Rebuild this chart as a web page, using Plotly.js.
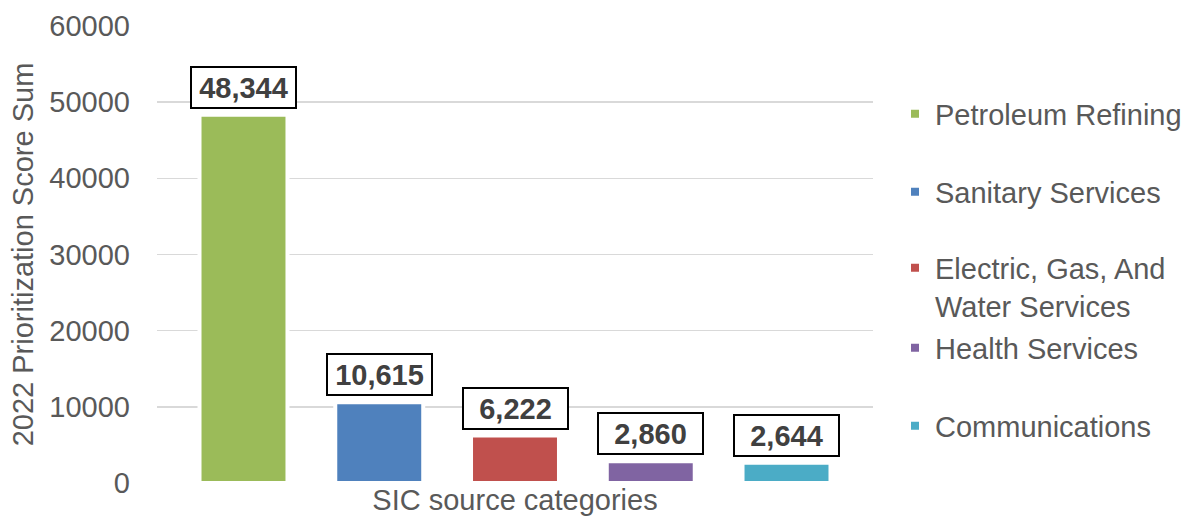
<!DOCTYPE html>
<html><head><meta charset="utf-8">
<script src="https://cdn.plot.ly/plotly-3.0.1.min.js"></script>
<style>html,body{margin:0;padding:0;background:#fff;}#chart{width:1187px;height:518px;}</style>
</head><body><div id="chart"></div>
<script>
const category = "SIC source categories";
const seriesNames = ["Petroleum Refining", "Sanitary Services", "Electric, Gas, And<br>Water Services", "Health Services", "Communications"];
const seriesValues = [48344, 10615, 6222, 2860, 2644];
const seriesColors = ["#9BBB59", "#4F81BD", "#C0504D", "#8064A2", "#4BACC6"];
const yTickValues = [0, 10000, 20000, 30000, 40000, 50000, 60000];
const yTitle = "2022 Prioritization Score Sum";

const FONT = "Arial, 'Liberation Sans', sans-serif";
const FS = 29;
const GREY = "#595959";
const BARGAP = 0.052, BARGROUPGAP = 0.352;
const legendCenters = [114, 192, 287, 348, 426];
const plotTop = 26, plotBottom = 483, plotLeft = 157, plotRight = 873;
const W = 1187, H = 518;

const n = seriesNames.length;
const traces = seriesNames.map((name, i) => ({
  type: "bar",
  name: name,
  x: [category],
  y: [seriesValues[i]],
  marker: {color: seriesColors[i], line: {color: "#ffffff", width: 4}},
  legend: i === 0 ? "legend" : "legend" + (i + 1),
  hoverinfo: "skip"
}));

const annotations = seriesValues.map((v, i) => ({
  xref: "x", yref: "y",
  x: -0.5 + BARGAP / 2 + (i + 0.5) * (1 - BARGAP) / n,
  y: v,
  yanchor: "bottom", xanchor: "center",
  yshift: 6,
  text: "<b>" + v.toLocaleString("en-US") + "</b>",
  showarrow: false,
  font: {family: FONT, size: FS, color: "#404040"},
  bgcolor: "#ffffff",
  bordercolor: "#000000",
  borderwidth: 2,
  borderpad: 3,
  width: 97,
  height: 33
}));

const layout = {
  width: W, height: H,
  margin: {l: plotLeft, r: W - plotRight, t: plotTop, b: H - plotBottom, pad: 0, autoexpand: false},
  paper_bgcolor: "#ffffff", plot_bgcolor: "#ffffff",
  font: {family: FONT, size: FS, color: GREY},
  barmode: "group",
  bargap: BARGAP,
  bargroupgap: BARGROUPGAP,
  showlegend: true,
  xaxis: {
    type: "category",
    showgrid: false, zeroline: false, showline: false,
    ticks: "",
    tickfont: {family: FONT, size: FS, color: GREY},
    ticklabelstandoff: -3,
    automargin: false,
    fixedrange: true
  },
  yaxis: {
    range: [0, 60000],
    tickvals: yTickValues,
    tickformat: "d",
    showgrid: true, gridcolor: "#d9d9d9", gridwidth: 1.5,
    zeroline: false, showline: false, ticks: "",
    tickfont: {family: FONT, size: FS, color: GREY},
    ticklabelstandoff: 26,
    automargin: false,
    title: {text: yTitle, font: {family: FONT, size: FS, color: GREY}, standoff: 7},
    fixedrange: true
  },
  annotations: annotations
};

const plotH = plotBottom - plotTop, plotW = plotRight - plotLeft;
legendCenters.forEach((c, i) => {
  const key = i === 0 ? "legend" : "legend" + (i + 1);
  layout[key] = {
    x: (895 - plotLeft) / plotW,
    xanchor: "left",
    y: (plotBottom - c) / plotH,
    yanchor: "middle",
    valign: "top",
    bgcolor: "rgba(0,0,0,0)",
    borderwidth: 0,
    font: {family: FONT, size: FS, color: GREY},
    itemclick: false, itemdoubleclick: false
  };
});

Plotly.newPlot("chart", traces, layout, {displayModeBar: false, staticPlot: true});
</script>
</body></html>
